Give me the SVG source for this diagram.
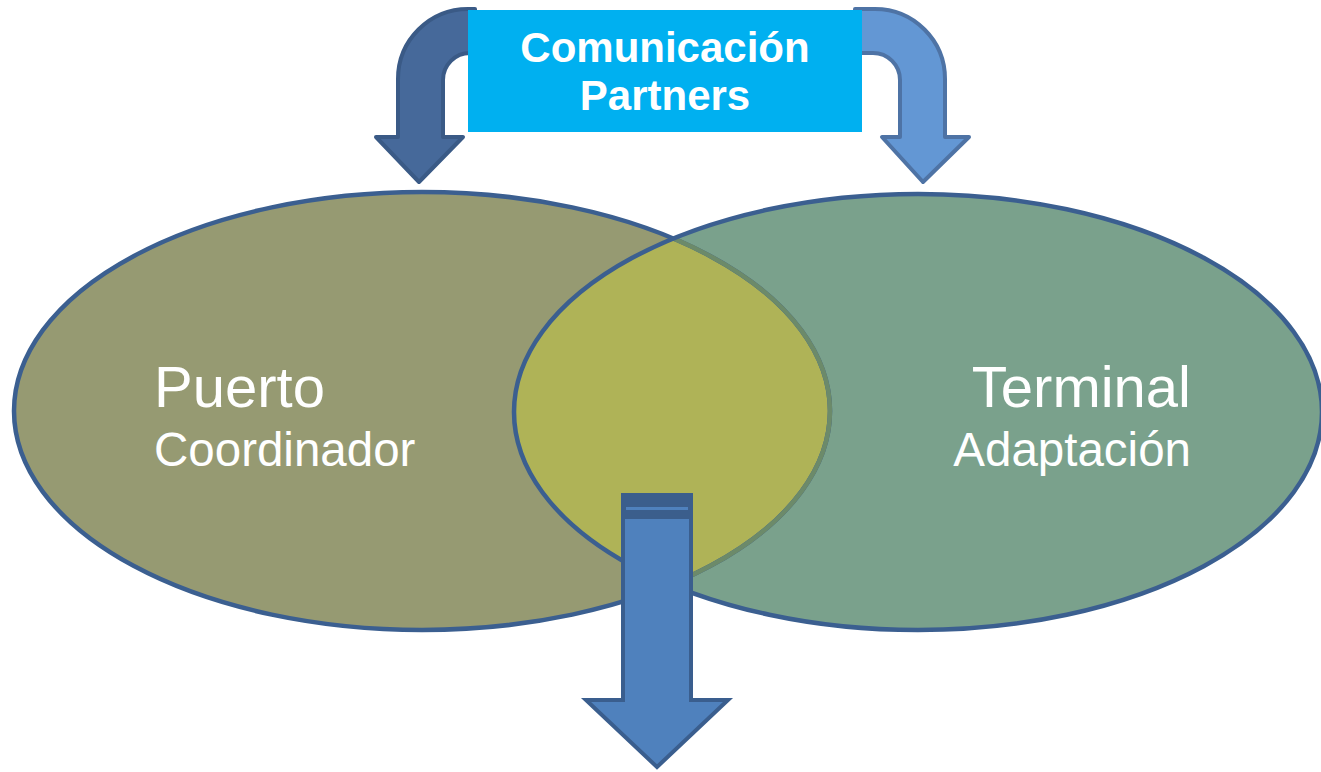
<svg xmlns="http://www.w3.org/2000/svg" width="1321" height="772" viewBox="0 0 1321 772">
<style>
.lbl{font-family:"Liberation Sans",Arial,sans-serif;fill:#fff}
.big{font-size:58px}
.sm{font-size:47.5px}
.ttl{font-family:"Liberation Sans",Arial,sans-serif;font-weight:bold;font-size:42px;fill:#fff}
.edge{fill:none;stroke:#3B5F90;stroke-width:4.5}
</style>
<defs>
<clipPath id="clipR"><ellipse cx="918" cy="412" rx="404" ry="218"/></clipPath>
</defs>
<rect width="1321" height="772" fill="#fff"/>
<g id="connectors">
<path id="arrow-left" d="M 475 9 L 468 9 A 70 70 0 0 0 398 79 L 398 137 L 376 137 L 419 182 L 463 137 L 443 137 L 443 80 A 27 27 0 0 1 470 53 L 475 53 Z" fill="#46699A" stroke="#3A5A86" stroke-width="4" stroke-linejoin="round"/>
<path id="arrow-right" d="M 855 9 L 875 9 A 70 70 0 0 1 945 79 L 945 137 L 969 137 L 923 182 L 882 137 L 900 137 L 900 80 A 27 27 0 0 0 873 53 L 855 53 Z" fill="#6397D4" stroke="#4E73A5" stroke-width="4" stroke-linejoin="round"/>
</g>
<g id="node-title">
<rect x="468" y="10" width="394" height="122" fill="#00B0F0"/>
<text class="ttl" x="665" y="62" text-anchor="middle">Comunicación</text>
<text class="ttl" x="665" y="110" text-anchor="middle">Partners</text>
</g>
<g id="node-puerto">
<ellipse cx="422" cy="411" rx="408" ry="219" fill="#969A72"/>
</g>
<g id="node-terminal">
<ellipse cx="918" cy="412" rx="404" ry="218" fill="#7AA18C"/>
</g>
<g id="node-overlap">
<ellipse cx="422" cy="411" rx="408" ry="219" fill="#AFB357" clip-path="url(#clipR)"/>
<ellipse cx="422" cy="411" rx="408" ry="219" class="edge"/>
<ellipse cx="422" cy="411" rx="408" ry="219" fill="none" stroke="#6C8A6A" stroke-width="4.5" clip-path="url(#clipR)"/>
<ellipse cx="918" cy="412" rx="404" ry="218" class="edge"/>
</g>
<g id="labels">
<text class="lbl big" x="154" y="407">Puerto</text>
<text class="lbl sm" x="154" y="466">Coordinador</text>
<text class="lbl big" x="1191" y="407" text-anchor="end">Terminal</text>
<text class="lbl sm" x="1191" y="466" text-anchor="end">Adaptación</text>
</g>
<g id="arrow-down">
<path d="M 623 495 L 691 495 L 691 700 L 728 700 L 657 767 L 586 700 L 623 700 Z" fill="#4F81BD" stroke="#3A5E8E" stroke-width="4" stroke-linejoin="miter"/>
<rect x="621" y="493" width="72" height="26" fill="#3B5E8C"/>
<rect x="626" y="507" width="62" height="3" fill="#4F81BD"/>
</g>
</svg>
